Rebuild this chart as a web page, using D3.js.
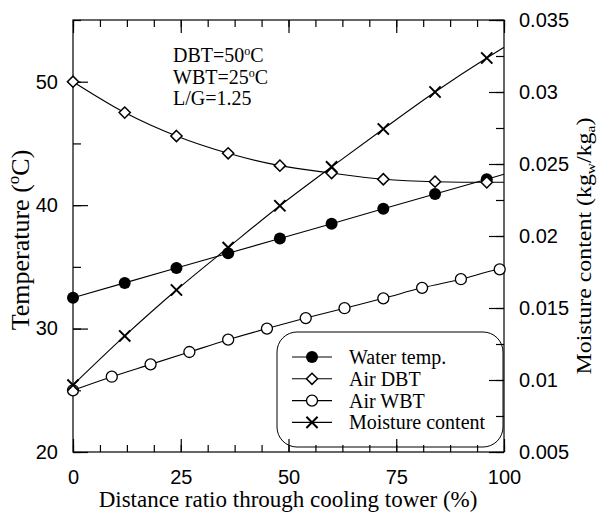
<!DOCTYPE html>
<html>
<head>
<meta charset="utf-8">
<script src="https://cdn.jsdelivr.net/npm/d3@7"></script>
<style>
  * { margin: 0; padding: 0; }
  body { background: #fff; }
  .tick text { font-family: "Liberation Sans", Arial, sans-serif; font-size: 20px; fill: #000; }
  .serif { font-family: "Liberation Serif", "Times New Roman", serif; fill: #000; }
</style>
</head>
<body>
<div id="chart"></div>
<script>
// data
var waterX = [0, 12, 24, 36, 48, 60, 72, 84, 96];
var waterT = [32.5, 33.7, 34.9, 36.1, 37.3, 38.5, 39.7, 40.9, 42.1];
var waterEnd = 42.5;

var dbtX = [0, 12, 24, 36, 48, 60, 72, 84, 96];
var dbtT = [50.0, 47.5, 45.6, 44.2, 43.2, 42.6, 42.1, 41.9, 41.85];
var dbtEnd = 41.85;

var wbtX = [0, 9, 18, 27, 36, 45, 54, 63, 72, 81, 90, 99];
var wbtT = [25.0, 26.1, 27.1, 28.1, 29.1, 30.0, 30.85, 31.65, 32.45, 33.3, 34.0, 34.8];
var wbtEnd = 34.85;

var moistX = [0, 12, 24, 36, 48, 60, 72, 84, 96];
var moistW = [0.00965, 0.01306, 0.01625, 0.0192, 0.0221, 0.0248, 0.02743, 0.0300, 0.03236];
var moistEnd = 0.0331;

var xTicks = [0, 25, 50, 75, 100];
var tTicks = [20, 30, 40, 50];
var wTicks = [0.005, 0.01, 0.015, 0.02, 0.025, 0.03, 0.035];

var W = 600, H = 518;
var margin = { top: 20, right: 96, bottom: 66, left: 73 },
    width = W - margin.left - margin.right,
    height = H - margin.top - margin.bottom;

var svg = d3.select("#chart").append("svg")
    .attr("width", W).attr("height", H);
var g = svg.append("g")
    .attr("transform", "translate(" + margin.left + "," + margin.top + ")");

var x = d3.scaleLinear().domain([0, 100]).range([0, width]);
var yT = d3.scaleLinear().domain([20, 55]).range([height, 0]);
var yW = d3.scaleLinear().domain([0.005, 0.035]).range([height, 0]);

// frame
g.append("rect").attr("width", width).attr("height", height)
    .attr("fill", "none").attr("stroke", "#000").attr("stroke-width", 1.2);

function cleanAxis(sel) {
    sel.select(".domain").remove();
    sel.selectAll(".tick line").attr("stroke", "#000").attr("stroke-width", 1.2);
}

var xMinor = d3.range(0, 100.01, 6.25);
var tMinor = d3.range(20, 55.01, 5);
var wMinor = d3.range(0.005, 0.0351, 0.0025);

// bottom
g.append("g").attr("transform", "translate(0," + height + ")")
    .call(d3.axisBottom(x).tickValues(xMinor).tickSize(-7).tickFormat(""))
    .call(cleanAxis);
g.append("g").attr("transform", "translate(0," + height + ")")
    .call(d3.axisBottom(x).tickValues(xTicks).tickSize(-13).tickPadding(32))
    .call(cleanAxis)
    .selectAll(".tick text").attr("dy", "0");
// top
g.append("g")
    .call(d3.axisTop(x).tickValues(xMinor).tickSize(-7).tickFormat(""))
    .call(cleanAxis);
g.append("g")
    .call(d3.axisTop(x).tickValues(xTicks).tickSize(-13).tickFormat(""))
    .call(cleanAxis);
// left
g.append("g")
    .call(d3.axisLeft(yT).tickValues(tMinor).tickSize(-8).tickFormat(""))
    .call(cleanAxis);
g.append("g")
    .call(d3.axisLeft(yT).tickValues(tTicks).tickSize(-15).tickPadding(15))
    .call(cleanAxis);
// right
g.append("g").attr("transform", "translate(" + width + ",0)")
    .call(d3.axisRight(yW).tickValues(wMinor).tickSize(-8).tickFormat(""))
    .call(cleanAxis);
g.append("g").attr("transform", "translate(" + width + ",0)")
    .call(d3.axisRight(yW).tickValues(wTicks).tickSize(-15).tickPadding(15)
        .tickFormat(function (d) { return String(+d.toFixed(3)); }))
    .call(cleanAxis);

// series
var series = [
    { name: "Water temp.", xs: waterX, ys: waterT, endV: waterEnd, y: yT, marker: "fcircle", curve: d3.curveLinear },
    { name: "Air DBT", xs: dbtX, ys: dbtT, endV: dbtEnd, y: yT, marker: "diamond", curve: d3.curveMonotoneX },
    { name: "Air WBT", xs: wbtX, ys: wbtT, endV: wbtEnd, y: yT, marker: "ocircle", curve: d3.curveMonotoneX },
    { name: "Moisture content", xs: moistX, ys: moistW, endV: moistEnd, y: yW, marker: "cross", curve: d3.curveMonotoneX }
];

function drawMarker(sel, type, cx, cy) {
    var r = 5.6;
    if (type === "fcircle") {
        sel.append("circle").attr("cx", cx).attr("cy", cy).attr("r", 6).attr("fill", "#000");
    } else if (type === "ocircle") {
        sel.append("circle").attr("cx", cx).attr("cy", cy).attr("r", 5.5)
            .attr("fill", "#fff").attr("stroke", "#000").attr("stroke-width", 1.3);
    } else if (type === "diamond") {
        sel.append("path")
            .attr("d", "M" + cx + "," + (cy - r) + "L" + (cx + r) + "," + cy + "L" + cx + "," + (cy + r) + "L" + (cx - r) + "," + cy + "Z")
            .attr("fill", "#fff").attr("stroke", "#000").attr("stroke-width", 1.5);
    } else {
        sel.append("path")
            .attr("d", "M" + (cx - r) + "," + (cy - r) + "L" + (cx + r) + "," + (cy + r) + "M" + (cx + r) + "," + (cy - r) + "L" + (cx - r) + "," + (cy + r))
            .attr("fill", "none").attr("stroke", "#000").attr("stroke-width", 2);
    }
}

series.forEach(function (s) {
    var pts = s.xs.map(function (v, i) { return [v, s.ys[i]]; });
    pts.push([100, s.endV]);
    var line = d3.line().x(function (d) { return x(d[0]); }).y(function (d) { return s.y(d[1]); }).curve(s.curve);
    g.append("path").datum(pts).attr("d", line)
        .attr("fill", "none").attr("stroke", "#000").attr("stroke-width", 1.1);
});
series.forEach(function (s) {
    var mg = g.append("g");
    s.xs.forEach(function (v, i) { drawMarker(mg, s.marker, x(v), s.y(s.ys[i])); });
});

// legend
var lg = svg.append("g").attr("transform", "translate(277,332)");
lg.append("rect").attr("width", 226).attr("height", 115).attr("rx", 20).attr("ry", 20)
    .attr("fill", "none").attr("stroke", "#000").attr("stroke-width", 1);
series.forEach(function (s, i) {
    var cy = 25 + i * 21.8;
    lg.append("line").attr("x1", 15).attr("x2", 55).attr("y1", cy).attr("y2", cy)
        .attr("stroke", "#000").attr("stroke-width", 1.1);
    drawMarker(lg, s.marker, 35, cy);
    lg.append("text").attr("class", "serif").attr("x", 72).attr("y", cy + 7)
        .style("font-size", "20px").text(s.name);
});

// annotation
function annLine(yy, pre, sup, post) {
    var t = svg.append("text").attr("class", "serif").attr("x", 173).attr("y", yy).style("font-size", "20px");
    t.append("tspan").text(pre);
    if (sup) {
        t.append("tspan").attr("dy", -7).style("font-size", "12px").text(sup);
        t.append("tspan").attr("dy", 7).text(post);
    }
}
annLine(62, "DBT=50", "o", "C");
annLine(84, "WBT=25", "o", "C");
annLine(105, "L/G=1.25");

// axis titles
svg.append("text").attr("class", "serif").attr("x", 288).attr("y", 507)
    .attr("text-anchor", "middle").style("font-size", "23px")
    .text("Distance ratio through cooling tower (%)");

var lt = svg.append("text").attr("class", "serif")
    .attr("transform", "translate(29,240) rotate(-90)")
    .attr("text-anchor", "middle").style("font-size", "26px");
lt.append("tspan").text("Temperature (");
lt.append("tspan").attr("dy", -10).style("font-size", "17px").text("o");
lt.append("tspan").attr("dy", 10).text("C)");

var rt = svg.append("text").attr("class", "serif")
    .attr("text-anchor", "middle").style("font-size", "20px");
rt.append("tspan").text("Moisture content (kg");
rt.append("tspan").attr("dy", 4).style("font-size", "13px").text("w");
rt.append("tspan").attr("dy", -4).text("/kg");
rt.append("tspan").attr("dy", 4).style("font-size", "13px").text("a");
rt.append("tspan").attr("dy", -4).text(")");
var rtLen = rt.node().getComputedTextLength();
rt.attr("transform", "translate(591,246) rotate(-90) scale(" + (257 / rtLen) + ",1)");
</script>
</body>
</html>
